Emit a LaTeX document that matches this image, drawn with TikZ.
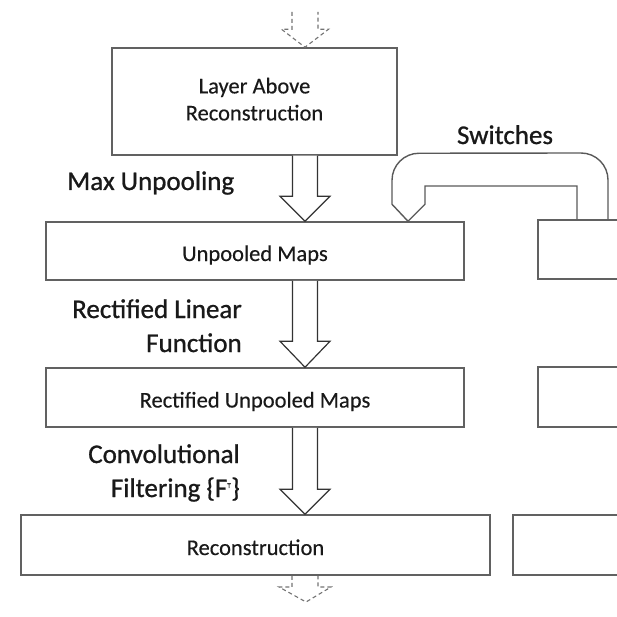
\documentclass[tikz,border=0pt]{standalone}
\usepackage{fontspec}
\setmainfont{Carlito}
\newfontfamily\steplabelfont[FakeBold=0.9]{Carlito}
\newfontfamily\mapfont[FakeBold=0.35]{Carlito}
\usetikzlibrary{calc}

\tikzset{
  x=1pt, y=1pt,
  mapbox/.style={draw=black!62, line width=1.5pt, rectangle, inner sep=0pt,
    font=\fontsize{22.5}{27}\mapfont, text=black!90, align=center,
    text height=20pt, text depth=0pt},
  steplabel/.style={inner sep=0pt, font=\fontsize{27}{34}\steplabelfont,
    text=black!90, align=right},
  hollow/.style={draw=black!80, line width=1.2pt, fill=white, line join=miter},
  ghost/.style={draw=black!55, line width=1.1pt, dash pattern=on 4pt off 3pt},
  switchline/.style={draw=black!65, line width=1.4pt, line join=miter},
}

% hollow block arrow: style, from, to, shaft half width, head half width, head length
\newcommand{\blockarrow}[6]{%
  \path[#1] let \p1=(#2), \p2=(#3) in
    (\x1-#4,\y1) -- (\x1-#4,\y2+#6) -- (\x1-#5,\y2+#6) -- (\x2,\y2)
    -- (\x1+#5,\y2+#6) -- (\x1+#4,\y2+#6) -- (\x1+#4,\y1);}

\begin{document}
\begin{tikzpicture}
\useasboundingbox (0,0) rectangle (617,-617);
\clip (0,0) rectangle (617,-617);

% column of maps
\node[mapbox, minimum width=285pt, minimum height=107pt,
      text height=, text depth=] (la) at (254.5,-101.5)
  {\raisebox{-3pt}{\begin{tabular}{@{}c@{}}Layer Above\\Reconstruction\end{tabular}}};
\node[mapbox, minimum width=418pt, minimum height=58pt] (um) at (255,-251)
  {Unpooled Maps};
\node[mapbox, minimum width=418pt, minimum height=59pt] (rum) at (255,-397.5)
  {Rectified Unpooled Maps};
\node[mapbox, minimum width=469pt, minimum height=60pt] (rec) at (255.5,-545)
  {Reconstruction};

% partly visible neighbouring maps
\node[mapbox, minimum width=160pt, minimum height=59pt] (umr) at (618,-249.5) {};
\node[mapbox, minimum width=160pt, minimum height=60pt] (rumr) at (618,-397) {};
\node[mapbox, minimum width=185pt, minimum height=60pt] (recr) at (605.5,-545) {};

% arrow axis and free ends
\coordinate (ax) at (305,0);
\coordinate (topin) at (305,-12);
\coordinate (botout) at (306,-602);

% incoming and outgoing (dashed)
\blockarrow{ghost}{topin}{la.north -| ax}{13pt}{23.5pt}{18pt}
\blockarrow{ghost}{rec.south -| ax}{botout}{13pt}{26pt}{15pt}

% main flow
\blockarrow{hollow}{la.south -| ax}{um.north -| ax}{12.5pt}{25pt}{25pt}
\blockarrow{hollow}{um.south -| ax}{rum.north -| ax}{12.5pt}{25pt}{26pt}
\blockarrow{hollow}{rum.south -| ax}{rec.north -| ax}{12.5pt}{25pt}{25pt}

% switches loop
\coordinate (swtip) at (408,0);
\coordinate (swin) at (577,0);
\coordinate (swout) at (608,0);
\draw[switchline] (um.north -| swtip) -- ++(-16,17) -- ++(0,24)
  arc[start angle=180, end angle=90, radius=27] -- (581,-153)
  arc[start angle=90, end angle=0, radius=27] -- (umr.north -| swout);
\draw[switchline] (um.north -| swtip) -- ++(17,17) |- (577,-186)
  -- (umr.north -| swin);

% labels
\node[steplabel, anchor=base west] (lmax) at (67,-190) {Max Unpooling};
\node[steplabel, anchor=base east] (lrel) at (242,-352) {Rectified Linear\\Function};
\node[steplabel, anchor=base east] (lconv) at (240,-497)
  {Convolutional\\Filtering \{F\textsuperscript{\scriptsize T}\}};
\node[steplabel, anchor=base] (lsw) at (505,-144) {Switches};
\end{tikzpicture}
\end{document}
